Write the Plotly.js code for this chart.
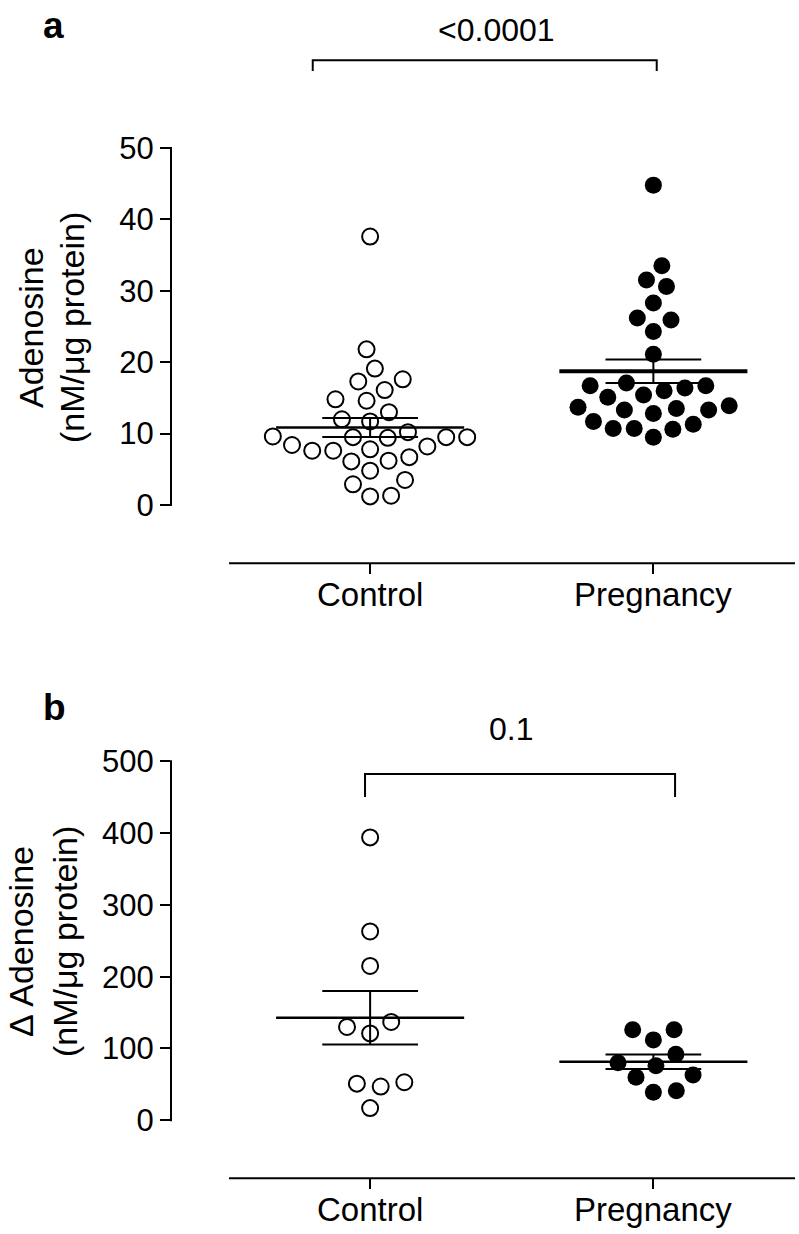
<!DOCTYPE html>
<html><head><meta charset="utf-8">
<script src="https://cdn.plot.ly/plotly-3.0.1.min.js"></script>
<style>html,body{margin:0;padding:0;background:#fff}#chart{width:799px;height:1234px}</style>
</head><body><div id="chart"></div>
<script>
// ---------------- data ----------------
const categories = ["Control", "Pregnancy"];
const aControl = [37.6, 21.8, 19.1, 17.3, 17.6, 16.1, 14.6, 14.8, 13.0, 12.0, 11.7, 10.2, 9.5, 9.5, 9.4, 9.5, 9.6, 8.4, 8.2, 7.6, 7.6, 7.8, 6.7, 6.1, 6.2, 4.8, 2.9, 3.5, 1.2, 1.3];
const aPregnancy = [44.8, 33.5, 31.5, 30.6, 28.3, 25.9, 26.2, 24.3, 21.1, 17.1, 16.7, 16.0, 15.1, 13.7, 13.3, 13.3, 13.5, 13.9, 15.4, 16.4, 16.7, 12.8, 11.3, 10.7, 9.5, 10.6, 10.7, 11.7];
const bControl = [394, 263, 215, 137, 130, 121, 51, 53, 47, 17];
const bPregnancy = [126, 112, 126, 92, 80, 76, 60, 63, 39, 41];
const aTicks = [0, 10, 20, 30, 40, 50];
const bTicks = [0, 100, 200, 300, 400, 500];
const aPValue = "&lt;0.0001";
const bPValue = "0.1";
const aYTitle = ["Adenosine", "(nM/μg protein)"];
const bYTitle = ["Δ Adenosine", "(nM/μg protein)"];
const panelLabels = ["a", "b"];

// ---------------- geometry ----------------
const W = 799, H = 1234;
const plotL = 171, plotR = 795;
const xRange = [-0.703, 1.5];
const FONT = "Liberation Sans, Arial, Helvetica, sans-serif";
const panels = [
  {sfx: "", top: 10, bottom: 563.3, range: [-8.17, 69.33], ticks: aTicks, groups: [aControl, aPregnancy],
   swarmD: [21, 21], meanW: [2.5, 4], bracket: {x0: -0.2026, x1: 1.0118, yTop: 62.3, yEnd: 60.8}, p: aPValue, pX: 0.445, pY: 66.5,
   title: aYTitle, titleX: [31, 72], titleY: 328, label: panelLabels[0], labelX: 53, labelY: 25},
  {sfx: "2", top: 700, bottom: 1178.3, range: [-80.8, 585.4], ticks: bTicks, groups: [bControl, bPregnancy],
   swarmD: [24, 23], meanW: [2.5, 2.5], bracket: {x0: -0.018, x1: 1.0766, yTop: 482.3, yEnd: 450.3}, p: bPValue, pX: 0.497, pY: 545,
   title: bYTitle, titleX: [21, 65], titleY: 942, label: panelLabels[1], labelX: 54, labelY: 707}
];
const xScale = (plotR - plotL) / (xRange[1] - xRange[0]);

function swarm(values, yScale, D) {
  const idx = values.map((v, i) => i).sort((a, b) => values[a] - values[b]);
  const placed = [];
  const off = new Array(values.length).fill(0);
  let side = 1;
  for (const i of idx) {
    const y = values[i] * yScale;
    let cands = [0];
    for (const p of placed) {
      const dy = Math.abs(p.y - y);
      if (dy < D) { const dx = Math.sqrt(D * D - dy * dy); cands.push(p.x + dx, p.x - dx); }
    }
    cands.sort((a, b) => (Math.abs(a) - Math.abs(b)) || (side * (b - a)));
    for (const c of cands) {
      if (placed.every(p => (p.x - c) ** 2 + (p.y - y) ** 2 >= D * D - 1e-6)) {
        off[i] = c; placed.push({x: c, y});
        if (c !== 0) side = c > 0 ? -1 : 1;
        break;
      }
    }
  }
  return off.map(o => o / xScale);
}
function meanOf(a) { return a.reduce((s, v) => s + v, 0) / a.length; }
function semOf(a) {
  const m = meanOf(a);
  const v = a.reduce((s, x) => s + (x - m) ** 2, 0) / (a.length - 1);
  return Math.sqrt(v / a.length);
}

const traces = [], shapes = [], annotations = [];
const layout = {
  width: W, height: H, margin: {l: 0, r: 0, t: 0, b: 0},
  paper_bgcolor: "white", plot_bgcolor: "rgba(0,0,0,0)", showlegend: false,
  font: {family: FONT, color: "black"}
};

panels.forEach(P => {
  const xa = "x" + P.sfx, ya = "y" + P.sfx;
  const yScale = (P.bottom - P.top) / (P.range[1] - P.range[0]);
  const yPx = v => P.top + (P.range[1] - v) * yScale;
  layout["xaxis" + P.sfx] = {
    domain: [plotL / W, plotR / W], range: xRange, anchor: ya,
    tickvals: [0, 1], ticktext: categories, ticks: "outside", ticklen: 10, tickwidth: 2, tickcolor: "black",
    showticklabels: false, showline: false, showgrid: false, zeroline: false, fixedrange: true
  };
  layout["yaxis" + P.sfx] = {
    domain: [1 - P.bottom / H, 1 - P.top / H], range: P.range, anchor: xa,
    tickvals: P.ticks, ticktext: P.ticks.map(String), ticks: "outside", ticklen: 10, tickwidth: 2, tickcolor: "black",
    showline: false, showgrid: false, zeroline: false, tickfont: {size: 31, family: FONT, color: "black"}, fixedrange: true
  };
  P.groups.forEach((vals, g) => {
    const offs = swarm(vals, yScale, P.swarmD[g]);
    traces.push({
      type: "scatter", mode: "markers", xaxis: xa, yaxis: ya, hoverinfo: "skip",
      x: vals.map((v, i) => g + offs[i]), y: vals,
      marker: g === 0 ? {symbol: "circle-open", size: 16, color: "black", line: {width: 2, color: "black"}}
                      : {symbol: "circle", size: 17, color: "black", line: {width: 0}}
    });
  });
  P.groups.forEach((vals, g) => {
    const m = meanOf(vals), s = semOf(vals);
    traces.push({type: "scatter", mode: "lines", xaxis: xa, yaxis: ya, hoverinfo: "skip",
      x: [g - 0.332, g + 0.332], y: [m, m], line: {color: "black", width: P.meanW[g]}});
    traces.push({type: "scatter", mode: "lines", xaxis: xa, yaxis: ya, hoverinfo: "skip",
      x: [g - 0.169, g + 0.169, null, g - 0.169, g + 0.169, null, g, g],
      y: [m + s, m + s, null, m - s, m - s, null, m - s, m + s], line: {color: "black", width: 2}});
  });
  // category labels
  categories.forEach((c, g) => annotations.push({xref: xa, yref: "paper", x: g, y: 1 - (P.bottom + 31.5) / H,
    text: c, showarrow: false, xanchor: "center", yanchor: "middle", font: {size: 33, family: FONT, color: "black"}}));
  // axis lines
  shapes.push({type: "line", xref: "paper", yref: "paper", x0: 229 / W, x1: plotR / W, y0: 1 - P.bottom / H, y1: 1 - P.bottom / H,
    line: {color: "black", width: 2}});
  const t0 = P.ticks[0], t1 = P.ticks[P.ticks.length - 1];
  shapes.push({type: "line", xref: "paper", yref: "paper", x0: plotL / W, x1: plotL / W,
    y0: 1 - (yPx(t0) + 1) / H, y1: 1 - (yPx(t1) - 1) / H, line: {color: "black", width: 2}});
  // bracket
  const B = P.bracket;
  shapes.push({type: "path", xref: xa, yref: ya,
    path: `M${B.x0},${B.yEnd} L${B.x0},${B.yTop} L${B.x1},${B.yTop} L${B.x1},${B.yEnd}`,
    line: {color: "black", width: 2}});
  annotations.push({xref: xa, yref: ya, x: P.pX, y: P.pY, text: P.p, showarrow: false,
    xanchor: "center", yanchor: "middle", font: {size: 32, family: FONT, color: "black"}});
  // y titles
  P.title.forEach((t, k) => annotations.push({xref: "paper", yref: "paper", x: P.titleX[k] / W, y: 1 - P.titleY / H,
    text: t, textangle: -90, showarrow: false, xanchor: "center", yanchor: "middle",
    font: {size: 34, family: FONT, color: "black"}}));
  // panel letter
  annotations.push({xref: "paper", yref: "paper", x: P.labelX / W, y: 1 - P.labelY / H, text: "<b>" + P.label + "</b>",
    showarrow: false, xanchor: "center", yanchor: "middle", font: {size: 37, family: FONT, color: "black"}});
});
layout.shapes = shapes;
layout.annotations = annotations;
Plotly.newPlot("chart", traces, layout, {staticPlot: true, displayModeBar: false});
</script>
</body></html>
